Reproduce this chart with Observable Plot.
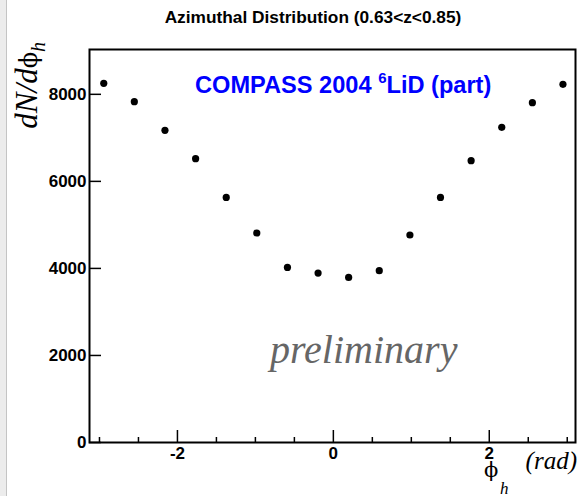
<!DOCTYPE html>
<html><head><meta charset="utf-8">
<script src="https://cdn.jsdelivr.net/npm/d3@7"></script>
<script src="https://cdn.jsdelivr.net/npm/@observablehq/plot@0.6"></script>
<style>
html,body{margin:0;padding:0;background:#fff;}
#wrap{position:relative;width:578px;height:496px;overflow:hidden;background:#fff;}
#wrap svg{position:absolute;left:0;top:0;}
#edge{position:absolute;left:0;top:0;width:6px;height:496px;background:#ececec;border-right:1px solid #c4c4c4;z-index:2;}
</style></head><body><div id="wrap"><div id="edge"></div></div>
<script>
// Data
const phiCenters = [-2.945, -2.553, -2.160, -1.767, -1.374, -0.982, -0.589, -0.196,
                    0.196, 0.589, 0.982, 1.374, 1.767, 2.160, 2.553, 2.945];
const counts = [8253, 7832, 7172, 6522, 5632, 4814, 4023, 3894,
                3793, 3947, 4768, 5632, 6476, 7241, 7809, 8230];
const xMajorTicks = [-2, 0, 2];
const xMinorTicks = [-3, -2.5, -1.5, -1, -0.5, 0.5, 1, 1.5, 2.5, 3];
const yTicks = [0, 2000, 4000, 6000, 8000];
const titleText = "Azimuthal Distribution (0.63<z<0.85)";
const expText = "COMPASS 2004 ";
const expSup = "6";
const expText2 = "LiD (part)";
const prelimText = "preliminary";

const data = phiCenters.map((x, i) => ({phi: x, n: counts[i]}));
const sans = "'Liberation Sans', Arial, Helvetica, sans-serif";
const serif = "'Liberation Serif', 'Times New Roman', serif";

const chart = Plot.plot({
  width: 578,
  height: 496,
  marginLeft: 89,
  marginRight: 3,
  marginTop: 49,
  marginBottom: 54,
  style: {background: "transparent", fontFamily: sans, color: "black", overflow: "visible"},
  x: {domain: [-3.128, 3.106]},
  y: {domain: [0, 9030]},
  marks: [
    Plot.axisX(xMinorTicks, {tickSize: -5, tickFormat: () => "", label: null, strokeWidth: 1.5}),
    Plot.axisX(xMajorTicks, {tickSize: -12, tickFormat: () => "", label: null, strokeWidth: 1.5}),
    Plot.axisX(xMajorTicks, {tickSize: 0, tickPadding: 4, tickFormat: d => String(d), label: null,
      fontSize: 17, fontWeight: "bold"}),
    Plot.axisY(yTicks, {tickSize: -12, tickFormat: () => "", label: null, strokeWidth: 1.5}),
    Plot.axisY(yTicks, {tickSize: 0, tickPadding: 3, tickFormat: d => String(d), label: null,
      fontSize: 17, fontWeight: "bold"}),
    Plot.frame({stroke: "black", strokeWidth: 2}),
    Plot.dot(data, {x: "phi", y: "n", r: 3.6, fill: "black", stroke: "none"})
  ]
});

const svg = d3.select(chart);
svg.append("text")
  .attr("x", 313).attr("y", 23)
  .attr("text-anchor", "middle")
  .attr("font-family", sans).attr("font-weight", "bold").attr("font-size", 17.3)
  .attr("fill", "black")
  .text(titleText);

const exp = svg.append("text")
  .attr("x", 195).attr("y", 93)
  .attr("text-anchor", "start")
  .attr("font-family", sans).attr("font-weight", "bold").attr("font-size", 23.6)
  .attr("fill", "#0000ff");
exp.append("tspan").text(expText);
exp.append("tspan").attr("font-size", 15).attr("dy", -10).text(expSup);
exp.append("tspan").attr("dy", 10).text(expText2);

svg.append("text")
  .attr("x", 270).attr("y", 363)
  .attr("text-anchor", "start")
  .attr("font-family", serif).attr("font-style", "italic").attr("font-size", 40)
  .attr("fill", "#666666")
  .text(prelimText);

// y-axis title
const yl = svg.append("text")
  .attr("transform", "translate(37,42) rotate(-90)")
  .attr("text-anchor", "end")
  .attr("font-family", serif).attr("font-size", 31).attr("fill", "black");
yl.append("tspan").attr("font-style", "italic").text("dN/d");
yl.append("tspan").attr("font-family", "'DejaVu Serif', serif").attr("font-size", 24).text("ϕ");
yl.append("tspan").attr("font-style", "italic").attr("font-size", 20).attr("dy", 8).text("h");

// x-axis title
svg.append("text")
  .attr("x", 484).attr("y", 477)
  .attr("text-anchor", "start")
  .attr("font-family", "'DejaVu Serif', serif").attr("font-size", 21).attr("fill", "black")
  .text("ϕ");
svg.append("text")
  .attr("x", 500).attr("y", 494)
  .attr("text-anchor", "start")
  .attr("font-family", serif).attr("font-style", "italic").attr("font-size", 17).attr("fill", "black")
  .text("h");
svg.append("text")
  .attr("x", 577).attr("y", 469)
  .attr("text-anchor", "end")
  .attr("font-family", serif).attr("font-style", "italic").attr("font-size", 25).attr("fill", "black")
  .text("(rad)");

document.getElementById("wrap").appendChild(chart);
</script>
</body></html>
